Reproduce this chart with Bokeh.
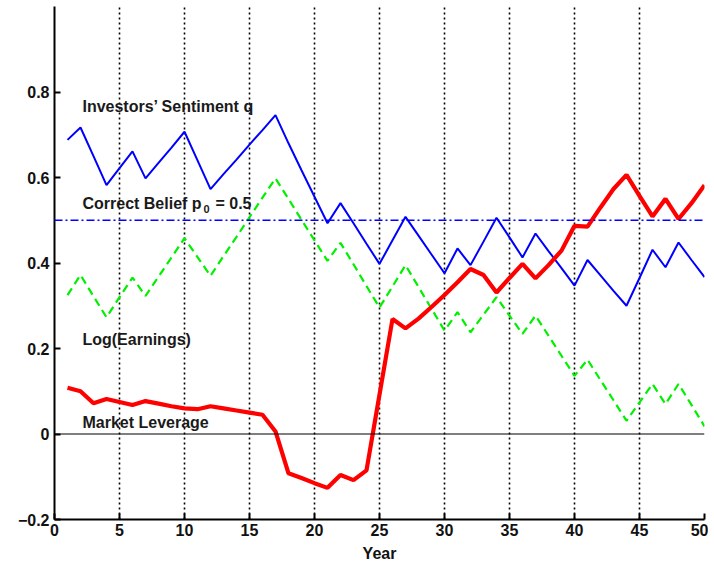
from bokeh.plotting import figure
from bokeh.models import Span, Label, FixedTicker, Range1d
from bokeh.embed import file_html
from bokeh.resources import INLINE

years = list(range(1, 51))
sentiment_q = [0.688, 0.717, 0.650, 0.582, 0.622, 0.661, 0.598, 0.634, 0.670, 0.707,
               0.640, 0.573, 0.608, 0.642, 0.677, 0.711, 0.746, 0.680, 0.617, 0.555,
               0.493, 0.540, 0.493, 0.445, 0.398, 0.453, 0.508, 0.464, 0.420, 0.376,
               0.434, 0.395, 0.450, 0.506, 0.460, 0.413, 0.469, 0.428, 0.388, 0.347,
               0.407, 0.371, 0.335, 0.300, 0.365, 0.431, 0.390, 0.448, 0.407, 0.367]
log_earnings = [0.325, 0.372, 0.322, 0.273, 0.320, 0.366, 0.323, 0.368, 0.413, 0.458,
                0.414, 0.370, 0.416, 0.461, 0.507, 0.553, 0.598, 0.550, 0.501, 0.453,
                0.405, 0.447, 0.397, 0.346, 0.296, 0.345, 0.395, 0.344, 0.293, 0.242,
                0.285, 0.238, 0.279, 0.320, 0.277, 0.234, 0.277, 0.230, 0.183, 0.136,
                0.174, 0.126, 0.079, 0.031, 0.074, 0.117, 0.070, 0.117, 0.068, 0.018]
market_leverage = [0.108, 0.100, 0.072, 0.082, 0.075, 0.068, 0.077, 0.071, 0.065, 0.060,
                   0.058, 0.065, 0.060, 0.055, 0.050, 0.045, 0.006, -0.092, -0.103, -0.115,
                   -0.126, -0.096, -0.108, -0.085, 0.092, 0.269, 0.247, 0.270, 0.297, 0.325,
                   0.355, 0.386, 0.372, 0.331, 0.365, 0.398, 0.364, 0.395, 0.429, 0.487,
                   0.485, 0.530, 0.573, 0.606, 0.557, 0.509, 0.550, 0.503, 0.540, 0.582]
correct_belief = 0.5

x_ticks = [0, 5, 10, 15, 20, 25, 30, 35, 40, 45, 50]
y_ticks = [-0.2, 0, 0.2, 0.4, 0.6, 0.8]
y_tick_labels = ["\u22120.2", "0", "0.2", "0.4", "0.6", "0.8"]

FONT = "Liberation Sans"

p = figure(width=708, height=564, output_backend="svg", toolbar_location=None,
           x_range=Range1d(0, 50), y_range=Range1d(-0.2, 1.0),
           min_border_left=54, min_border_right=4, min_border_top=6, min_border_bottom=44)
p.outline_line_color = None
p.background_fill_color = "white"

# grid
p.ygrid.grid_line_color = None
p.xgrid.ticker = FixedTicker(ticks=x_ticks[1:])
p.xgrid.grid_line_color = "black"
p.xgrid.grid_line_dash = "2 3"
p.xgrid.grid_line_width = 1.6

# axes
for ax in (p.xaxis[0], p.yaxis[0]):
    ax.axis_line_width = 2
    ax.axis_line_color = "black"
    ax.major_tick_in = 6
    ax.major_tick_out = 0
    ax.major_tick_line_width = 2
    ax.minor_tick_line_color = None
    ax.major_label_text_font = FONT
    ax.major_label_text_font_style = "bold"
    ax.major_label_text_font_size = "16px"
    ax.major_label_text_color = "#111111"

p.xaxis.ticker = FixedTicker(ticks=x_ticks)
p.yaxis.ticker = FixedTicker(ticks=y_ticks)
p.yaxis.major_label_overrides = dict(zip(y_ticks, y_tick_labels))
p.xaxis.major_label_standoff = 4
p.yaxis.major_label_standoff = 5
p.xaxis.axis_label = "Year"
p.xaxis.axis_label_text_font = FONT
p.xaxis.axis_label_text_font_style = "bold"
p.xaxis.axis_label_text_font_size = "16px"
p.xaxis.axis_label_standoff = 6
p.xaxis.axis_label_text_color = "#111111"

# reference lines
p.add_layout(Span(location=0, dimension="width", line_color="black", line_width=1.2))
p.add_layout(Span(location=correct_belief, dimension="width", line_color="blue",
                  line_width=1.5, line_dash="8 3 2 3"))

# series
p.line(years, log_earnings, line_color="#00f000", line_width=2.2, line_dash="8 5")
p.line(years, sentiment_q, line_color="blue", line_width=2)
p.line(years, market_leverage, line_color="red", line_width=4.2)

# annotations
def lab(x, y, text, xoff=0, yoff=0, size="16px"):
    p.add_layout(Label(x=x, y=y, text=text, x_offset=xoff, y_offset=yoff,
                       text_font=FONT, text_font_style="bold", text_font_size=size,
                       text_color="#1a1a1a", text_baseline="middle", text_align="left"))

lab(2.15, 0.767, "Investors\u2019 Sentiment q")
lab(2.15, 0.540, "Correct Belief p")
lab(2.15, 0.540, "0", xoff=121, yoff=-6, size="11px")
lab(2.15, 0.540, "= 0.5", xoff=133)
lab(2.15, 0.222, "Log(Earnings)")
lab(2.15, 0.028, "Market Leverage")

open("out.html", "w").write(file_html(p, INLINE))
